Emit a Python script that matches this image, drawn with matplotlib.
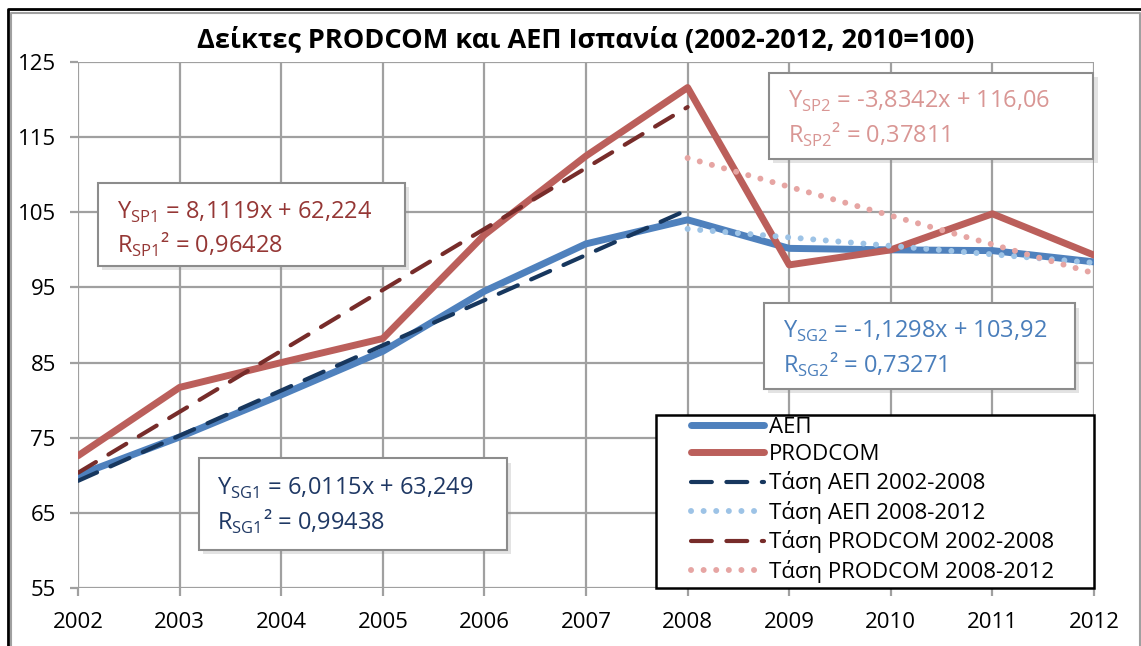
import numpy as np
import matplotlib
matplotlib.use('Agg')
import matplotlib.pyplot as plt
import matplotlib.patheffects as pe
from matplotlib.patches import Rectangle
from matplotlib.lines import Line2D

plt.rcParams['font.family'] = ['Open Sans', 'DejaVu Sans']
plt.rcParams['mathtext.fontset'] = 'custom'
plt.rcParams['mathtext.rm'] = 'Open Sans'

# data
years = [2002, 2003, 2004, 2005, 2006, 2007, 2008, 2009, 2010, 2011, 2012]
aep = [70.0, 75.1, 80.7, 86.5, 94.5, 100.8, 104.0, 100.2, 100.0, 99.9, 98.4]
prodcom = [72.6, 81.7, 85.0, 88.2, 102.0, 112.5, 121.6, 98.0, 100.0, 104.8, 99.3]

# trend line coefficients as printed on the chart (slope, intercept)
sg1 = [6.0115, 63.249]
sp1 = [8.1119, 62.224]
sg2 = [-1.1298, 103.92]
sp2 = [-3.8342, 116.06]
years1 = years[:7]   # 2002-2008
years2 = years[6:]   # 2008-2012

title = 'Δείκτες PRODCOM και ΑΕΠ Ισπανία (2002-2012, 2010=100)'
labels = ['ΑΕΠ', 'PRODCOM', 'Τάση ΑΕΠ 2002-2008', 'Τάση ΑΕΠ 2008-2012',
          'Τάση PRODCOM 2002-2008', 'Τάση PRODCOM 2008-2012']


def trend(coef, n):
    x = np.arange(1, n + 1)
    return coef[0] * x + coef[1]


def fmt(v):
    return str(v).replace('.', ',')


fig = plt.figure(figsize=(11.41, 6.46), dpi=100)
ax = fig.add_axes([0.0684, 0.0898, 0.8904, 0.8142])

grid_c = '#a0a0a0'
h1, = ax.plot(years, aep, color='#4f81bd', lw=5, solid_capstyle='round', zorder=3)
h2, = ax.plot(years, prodcom, color='#bb5f5b', lw=5, solid_capstyle='round', zorder=3)
h3, = ax.plot(years1, trend(sg1, 7), color='#17375e', lw=3,
              dashes=(5, 3.5), dash_capstyle='round', zorder=4)
h4, = ax.plot(years2, trend(sg2, 5), color='#9dc3e6', lw=4.3,
              dashes=(0.01, 2.1), dash_capstyle='round', zorder=4)
h5, = ax.plot(years1, trend(sp1, 7), color='#772c2a', lw=3,
              dashes=(5, 3.5), dash_capstyle='round', zorder=4)
h6, = ax.plot(years2, trend(sp2, 5), color='#e6a5a3', lw=4.3,
              dashes=(0.01, 2.1), dash_capstyle='round', zorder=4)

ax.set_xlim(2002, 2012)
ax.set_ylim(55, 125)
ax.set_xticks(years)
ax.set_yticks(np.arange(55, 126, 10))
ax.grid(True, color=grid_c, lw=1.6)
ax.set_axisbelow(True)
for s in ax.spines.values():
    s.set_visible(False)
ax.tick_params(axis='both', direction='out', length=6, width=1.6, color=grid_c,
               labelsize=16, pad=10)
ax.tick_params(axis='x', pad=11)

ax.set_title(title, fontsize=19.5, fontweight='bold', pad=10)

# equation boxes
shadow = [pe.SimplePatchShadow(offset=(3, -3), shadow_rgbFace='#909090', alpha=0.25),
          pe.Normal()]
boxes = [
    # x0, y0, x1, y1, text x, line1 y, line2 y, colour, name, coef, r2
    (0.0197, 0.612, 0.3219, 0.770, 0.0384, 0.715, 0.652, '#953735', 'SP1', sp1, '0,96428'),
    (0.680, 0.815, 0.9995, 0.9785, 0.699, 0.9245, 0.861, '#d99694', 'SP2', sp2, '0,37811'),
    (0.675, 0.378, 0.981, 0.541, 0.6937, 0.487, 0.424, '#4a7ebb', 'SG2', sg2, '0,73271'),
    (0.119, 0.0722, 0.422, 0.2465, 0.137, 0.1895, 0.126, '#1f3864', 'SG1', sg1, '0,99438'),
]
for x0, y0, x1, y1, tx, ly1, ly2, col, name, coef, r2 in boxes:
    r = Rectangle((x0, y0), x1 - x0, y1 - y0, transform=ax.transAxes,
                  facecolor='white', edgecolor='#8c8c8c', lw=1.5, zorder=6,
                  clip_on=False)
    r.set_path_effects(shadow)
    ax.add_patch(r)
    line1 = r'Y$_{\mathregular{%s}}$ = %sx + %s' % (name, fmt(coef[0]), fmt(coef[1]))
    line2 = r'R$_{\mathregular{%s}}$² = %s' % (name, r2)
    ax.text(tx, ly1, line1, transform=ax.transAxes, color=col, fontsize=17,
            va='center', ha='left', zorder=7)
    ax.text(tx, ly2, line2, transform=ax.transAxes, color=col, fontsize=17,
            va='center', ha='left', zorder=7)

# legend
ax.add_patch(Rectangle((0.569, 0.0), 0.431, 0.329, transform=ax.transAxes,
                       facecolor='white', edgecolor='black', lw=1.8, zorder=6,
                       clip_on=False))
leg = ax.legend([h1, h2, h3, h4, h5, h6], labels, loc='upper left',
                bbox_to_anchor=(0.603, 0.326), frameon=False, fontsize=16,
                handlelength=3.3, handletextpad=0.23, labelspacing=0.29,
                borderpad=0, borderaxespad=0)
leg.set_zorder(7)

# outer chart frame
fig.add_artist(Line2D([8 / 1141, 8 / 1141, 1], [0, 1 - 9 / 646, 1 - 9 / 646],
                      transform=fig.transFigure, color='black', lw=2))
fig.add_artist(Line2D([11 / 1141, 11 / 1141, 1140 / 1141, 1140 / 1141],
                      [0, 1 - 13 / 646, 1 - 13 / 646, 0],
                      transform=fig.transFigure, color='#a0a0a0', lw=1.5))

fig.savefig('out.png', dpi=100)
